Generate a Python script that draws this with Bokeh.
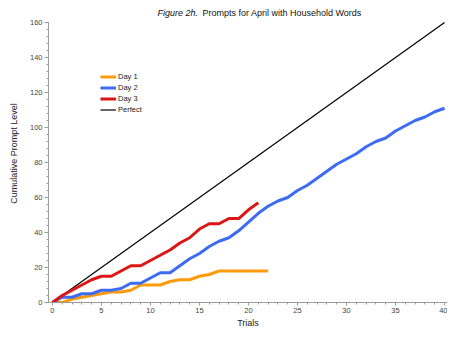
from bokeh.plotting import figure
from bokeh.models import Range1d, Legend, LegendItem, SingleIntervalTicker
from bokeh.core.properties import value
from bokeh.embed import file_html
from bokeh.resources import INLINE

# Data
day1_trials = list(range(0, 23))
day1_values = [0, 0, 2, 3, 4, 5, 6, 6, 7, 10, 10, 10, 12, 13, 13, 15, 16, 18, 18, 18, 18, 18, 18]

day2_trials = list(range(0, 41))
day2_values = [0, 3, 3, 5, 5, 7, 7, 8, 11, 11, 14, 17, 17, 21, 25, 28, 32, 35, 37, 41, 46,
               51, 55, 58, 60, 64, 67, 71, 75, 79, 82, 85, 89, 92, 94, 98, 101, 104, 106, 109, 111]

day3_trials = list(range(0, 22))
day3_values = [0, 4, 7, 10, 13, 15, 15, 18, 21, 21, 24, 27, 30, 34, 37, 42, 45, 45, 48, 48, 53, 57]

perfect_trials = [0, 40]
perfect_values = [0, 160]

title_italic = "Figure 2h."
title_main = "Prompts for April with Household Words"

FONT = "Liberation Sans"

p = figure(width=447, height=330, output_backend="svg", toolbar_location=None,
           x_range=Range1d(-0.4, 40.3), y_range=Range1d(0, 170.3),
           min_border_left=48, min_border_right=0, min_border_top=4, min_border_bottom=27)
p.outline_line_color = None
p.grid.visible = False
p.background_fill_color = "white"
p.border_fill_color = "white"

# Lines
r_perfect = p.line(perfect_trials, perfect_values, line_color="black", line_width=1.2)
r_day1 = p.line(day1_trials, day1_values, line_color="#FF9A0A", line_width=3)
r_day2 = p.line(day2_trials, day2_values, line_color="#3D6CF2", line_width=3)
r_day3 = p.line(day3_trials, day3_values, line_color="#DD1515", line_width=3)

# Title drawn as text inside the (extended) frame
p.text(x=[10.72], y=[165.7], text=[title_italic], text_font=value(FONT),
       text_font_size=value("9px"), text_font_style="italic",
       text_baseline="middle", text_align="left", text_color="#111111")
p.text(x=[15.3], y=[165.7], text=[title_main], text_font=value(FONT),
       text_font_size=value("9px"), text_font_style="normal",
       text_baseline="middle", text_align="left", text_color="#111111")

# Axes
for ax in (p.xaxis[0], p.yaxis[0]):
    ax.axis_line_color = "#9a9a9a"
    ax.major_tick_line_color = "#9a9a9a"
    ax.minor_tick_line_color = "#9a9a9a"
    ax.major_label_text_font = FONT
    ax.major_label_text_font_size = "7.5px"
    ax.major_label_text_color = "#444444"
    ax.axis_label_text_font = FONT
    ax.axis_label_text_font_size = "9px"
    ax.axis_label_text_font_style = "normal"
    ax.axis_label_text_color = "#222222"
    ax.major_tick_in = 0
    ax.minor_tick_in = 0

p.xaxis[0].ticker = SingleIntervalTicker(interval=5, num_minor_ticks=5)
p.xaxis[0].major_tick_out = 3
p.xaxis[0].minor_tick_out = 2
p.xaxis[0].major_label_standoff = 2
p.xaxis[0].axis_label = "Trials"
p.xaxis[0].axis_label_standoff = 2

p.yaxis[0].ticker = SingleIntervalTicker(interval=20, num_minor_ticks=5)
p.yaxis[0].bounds = (0, 160)
p.yaxis[0].major_tick_out = 4
p.yaxis[0].minor_tick_out = 2
p.yaxis[0].major_label_standoff = 2
p.yaxis[0].axis_label = "Cumulative Prompt Level"
p.yaxis[0].axis_label_standoff = 8

# Legend
legend = Legend(items=[
    LegendItem(label="Day 1", renderers=[r_day1]),
    LegendItem(label="Day 2", renderers=[r_day2]),
    LegendItem(label="Day 3", renderers=[r_day3]),
    LegendItem(label="Perfect", renderers=[r_perfect]),
], location=(52, 187))
legend.border_line_color = None
legend.background_fill_alpha = 0
legend.padding = 0
legend.margin = 0
legend.spacing = 0
legend.glyph_width = 16
legend.glyph_height = 11
legend.label_height = 11
legend.label_standoff = 2
legend.label_text_font = FONT
legend.label_text_font_size = "7.5px"
legend.label_text_color = "#222222"
p.add_layout(legend, "center")

open("out.html", "w").write(file_html(p, INLINE))
